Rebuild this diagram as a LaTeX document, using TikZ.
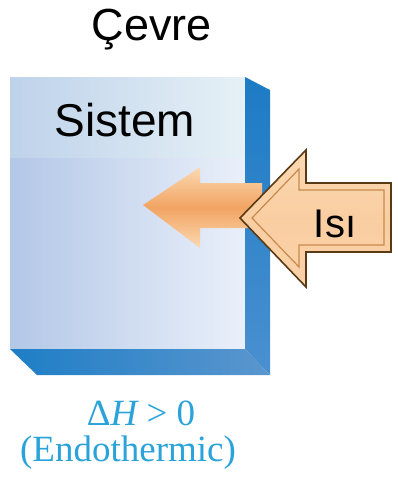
\documentclass[tikz,border=0pt]{standalone}
\usepackage{fontspec}
\newfontfamily\arialf{Liberation Sans}
\newfontfamily\timesf{Liberation Serif}
\definecolor{facel}{HTML}{B3C7E7}
\definecolor{facer}{HTML}{EAF0FA}
\definecolor{bandl}{HTML}{BED2EA}
\definecolor{bandr}{HTML}{E6F1F6}
\definecolor{sideblue}{HTML}{1C7BC4}
\definecolor{sidelow}{HTML}{4A90D0}
\definecolor{botl}{HTML}{1E7EC6}
\definecolor{botr}{HTML}{5B96CE}
\definecolor{txtblue}{HTML}{2AA2DA}
\definecolor{orlight}{HTML}{FAD2A8}
\definecolor{ormid}{HTML}{F2A462}
\definecolor{orpale}{HTML}{FBD9B3}
\definecolor{ordark}{HTML}{5A3A14}
\definecolor{orbevel}{HTML}{C88A4E}
\begin{document}
\begin{tikzpicture}[x=1pt,y=-1pt,
  lbl/.style={inner sep=0pt,text=black},
  arrowout/.style={draw=ordark,line width=1.6pt,line join=miter,top color=orpale,bottom color=orlight,middle color=orlight!90!ormid},
  arrowbevel/.style={draw=orbevel,line width=1.2pt,line join=miter},
  arrowin/.style={top color=orpale,bottom color=orpale,middle color=ormid,draw=none}]
\useasboundingbox (0,0) rectangle (398,477);
% front face
\shade[left color=facel,right color=facer] (10,77) rectangle (245,349);
\shade[left color=bandl,right color=bandr] (10,77) rectangle (245,157);
% side face
\shade[top color=sideblue,bottom color=sidelow] (245,77) -- (270,90) -- (270,375) -- (245,349) -- cycle;
% bottom face
\shade[left color=botl,right color=botr] (10,349) -- (245,349) -- (270,375) -- (37,375) -- cycle;
% inner arrow
\shade[arrowin] (143,205) -- (200,167) -- (200,183) -- (262,183) -- (262,228) -- (200,228) -- (200,248) -- cycle;
% outer arrow
\shade[arrowout] (240,218) -- (306,150) -- (306,183) -- (391,183) -- (391,252) -- (306,252) -- (306,287) -- cycle;
\draw[arrowbevel] (252,218) -- (299,169) -- (299,190) -- (384,190) -- (384,245) -- (299,245) -- (299,267) -- cycle;
% texts
\node[lbl] (cevre) at (152,30) {\arialf\fontsize{45}{50}\selectfont Çevre};
\node[lbl] (sistem) at (125,120) {\arialf\fontsize{46}{50}\selectfont Sistem};
\node[lbl] (isi) at (335,224) {\arialf\fontsize{40}{44}\selectfont Isı};
\node[lbl,text=txtblue] (dh) at (141,413) {\timesf\fontsize{37}{40}\selectfont Δ{\itshape H} > 0};
\node[lbl,text=txtblue] (endo) at (128,453) {\timesf\fontsize{37}{40}\selectfont (Endothermic)};
\end{tikzpicture}
\end{document}
